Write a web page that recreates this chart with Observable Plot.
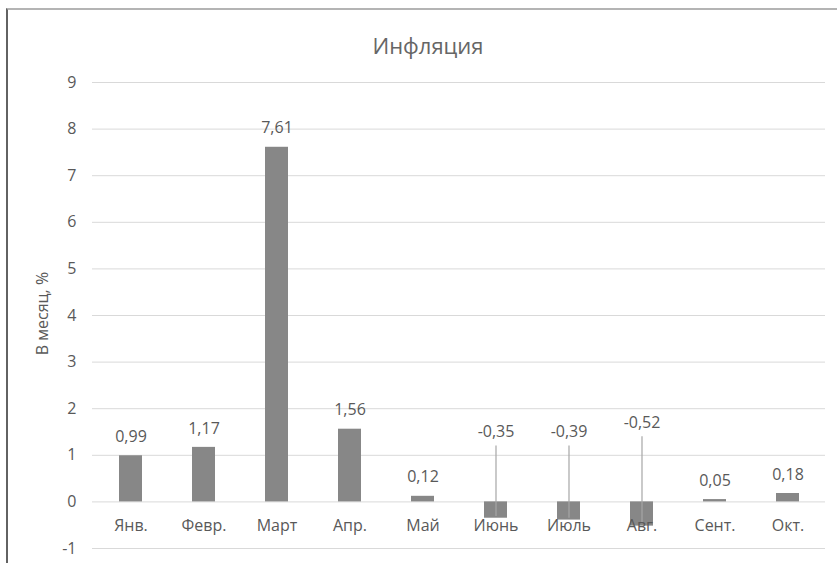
<!DOCTYPE html>
<html>
<head>
<meta charset="utf-8">
<script src="https://cdn.jsdelivr.net/npm/d3@7"></script>
<script src="https://cdn.jsdelivr.net/npm/@observablehq/plot@0.6"></script>
<style>
  html, body { margin: 0; padding: 0; background: #ffffff; }
  #wrap { position: relative; width: 837px; height: 563px; overflow: hidden; font-family: "Open Sans", sans-serif; }
  #frame { position: absolute; left: 6px; top: 8px; width: 900px; height: 700px;
           border-left: 2px solid #626262; border-top: 2px solid #b4b4b4; box-sizing: border-box; }
  #title { position: absolute; left: 0; top: 30px; width: 856px; text-align: center;
           font-size: 22px; line-height: 30px; color: #666666; font-weight: 400; }
  #chart { position: absolute; left: 0; top: 0; }
</style>
</head>
<body>
<div id="wrap">
  <div id="frame"></div>
  <div id="chart"></div>
  <div id="title"></div>
</div>
<script>
// ---- data ----
const title = "Инфляция";
const yLabel = "В месяц, %";
const months = ["Янв.", "Февр.", "Март", "Апр.", "Май", "Июнь", "Июль", "Авг.", "Сент.", "Окт."];
const values = [0.99, 1.17, 7.61, 1.56, 0.12, -0.35, -0.39, -0.52, 0.05, 0.18];
const yTicks = [-1, 0, 1, 2, 3, 4, 5, 6, 7, 8, 9];

// ---- rendering ----
document.getElementById("title").textContent = title;

const data = months.map((m, i) => ({month: m, value: values[i]}));
const pos = data.filter(d => d.value >= 0);
const neg = data.filter(d => d.value < 0);
const fmt = v => v.toFixed(2).replace(".", ",");
// Excel callout placement for the negative bars (in value units)
const calloutY = {"Июнь": 1.5, "Июль": 1.5, "Авг.": 1.7};

const textColor = "#595959";
const fs = 16;

const chart = Plot.plot({
  width: 837,
  height: 563,
  marginLeft: 92,
  marginRight: 12,
  marginTop: 82,
  marginBottom: 15,
  style: {fontFamily: "Open Sans, sans-serif", background: "transparent", color: textColor, overflow: "visible"},
  x: {domain: months, paddingInner: 0.69, paddingOuter: 0.345, axis: null},
  y: {domain: [-1, 9], axis: null},
  marks: [
    Plot.ruleY(yTicks, {stroke: "#d9d9d9", strokeWidth: 1}),
    Plot.barY(data, {x: "month", y: "value", fill: "#878787"}),
    Plot.link(neg, {
      x1: "month", x2: "month",
      y1: d => calloutY[d.month] - 0.29,
      y2: d => d.value + 0.05,
      stroke: "#a6a6a6", strokeWidth: 1.2
    }),
    Plot.axisY(yTicks, {
      tickSize: 0, tickPadding: 16, fontSize: fs, fill: textColor,
      tickFormat: d => String(d), label: null
    }),
    Plot.text(data, {
      x: "month", y: () => 0, text: "month", dy: 24,
      fontSize: fs, fill: textColor, lineAnchor: "middle"
    }),
    Plot.text(pos, {
      x: "month", y: "value", text: d => fmt(d.value), dy: -19,
      fontSize: fs, fill: textColor, lineAnchor: "middle"
    }),
    Plot.text(neg, {
      x: "month", y: d => calloutY[d.month], text: d => fmt(d.value),
      fontSize: fs, fill: textColor, lineAnchor: "middle"
    }),
    Plot.text([yLabel], {
      frameAnchor: "left", text: d => d, rotate: -90, dx: -50, dy: -2,
      textAnchor: "middle", lineAnchor: "middle", fontSize: fs, fill: textColor
    })
  ]
});
document.getElementById("chart").appendChild(chart);
</script>
</body>
</html>
